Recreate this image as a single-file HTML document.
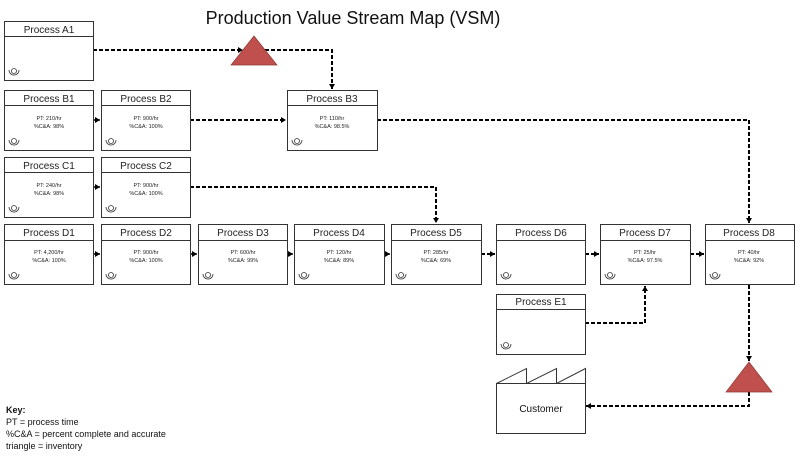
<!DOCTYPE html>
<html><head><meta charset="utf-8"><style>
html,body{margin:0;padding:0;background:#fff;}
svg{display:block;font-family:"Liberation Sans",Arial,sans-serif;}
.bx{fill:#fff;stroke:#333;stroke-width:1}
.hd{font-size:10px;fill:#222;text-anchor:middle}
.sm{font-size:5.5px;fill:#222;text-anchor:middle}
.dl{fill:none;stroke:#000;stroke-width:2;stroke-dasharray:4,2}
.sl{fill:none;stroke:#000;stroke-width:1.5}
.ic{fill:none;stroke:#333;stroke-width:0.8}
</style></head><body>
<svg width="800" height="460" viewBox="0 0 800 460">
<defs>
<marker id="ar" markerWidth="5" markerHeight="6" refX="5" refY="3" orient="auto" markerUnits="userSpaceOnUse"><path d="M0,0 L5,3 L0,6 z" fill="#000"/></marker>
<g id="op"><circle class="ic" cx="0" cy="-3" r="2.5"/><path class="ic" d="M-5,-4 A5,5 0 0 0 5,-4"/></g>
</defs>
<text x="353" y="24" font-size="18" text-anchor="middle" fill="#111">Production Value Stream Map (VSM)</text>

<path class="dl" d="M93,50 H243" marker-end="url(#ar)"/>
<path class="dl" d="M265,50 H332 V89" marker-end="url(#ar)"/>
<path class="dl" d="M190,120 H286" marker-end="url(#ar)"/>
<path class="dl" d="M377,120 H749 V223" marker-end="url(#ar)"/>
<path class="dl" d="M190,187 H436 V223" marker-end="url(#ar)"/>
<path class="sl" d="M93,120 H100" marker-end="url(#ar)"/>
<path class="sl" d="M93,187 H100" marker-end="url(#ar)"/>
<path class="sl" d="M93,254 H100" marker-end="url(#ar)"/>
<path class="sl" d="M190,254 H197" marker-end="url(#ar)"/>
<path class="sl" d="M287,254 H293" marker-end="url(#ar)"/>
<path class="sl" d="M384,254 H390" marker-end="url(#ar)"/>
<path class="dl" d="M481,254 H495" marker-end="url(#ar)"/>
<path class="dl" d="M585,254 H599" marker-end="url(#ar)"/>
<path class="dl" d="M690,254 H704" marker-end="url(#ar)"/>
<path class="dl" d="M585,323 H645 V286" marker-end="url(#ar)"/>
<path class="dl" d="M749,285 V361" marker-end="url(#ar)"/>
<path class="dl" d="M749,392 V406 H586" marker-end="url(#ar)"/>

<polygon points="254,36 277,65 231,65" fill="#c0504d" stroke="#8c3836" stroke-width="0.7"/>
<polygon points="749,362 772,392 726,392" fill="#c0504d" stroke="#8c3836" stroke-width="0.7"/>

<g><rect class="bx" x="4.5" y="21.5" width="89" height="59"/><line class="bx" x1="4.5" y1="36.5" x2="93.5" y2="36.5"/><text class="hd" x="49" y="33">Process A1</text><use href="#op" x="14" y="74"/></g>

<g><rect class="bx" x="4.5" y="90.5" width="89" height="60"/><line class="bx" x1="4.5" y1="105.5" x2="93.5" y2="105.5"/><text class="hd" x="49" y="102">Process B1</text><text class="sm" x="49" y="120">PT: 210/hr</text><text class="sm" x="49" y="128">%C&amp;A: 98%</text><use href="#op" x="14" y="144"/></g>
<g><rect class="bx" x="101.5" y="90.5" width="89" height="60"/><line class="bx" x1="101.5" y1="105.5" x2="190.5" y2="105.5"/><text class="hd" x="146" y="102">Process B2</text><text class="sm" x="146" y="120">PT: 900/hr</text><text class="sm" x="146" y="128">%C&amp;A: 100%</text><use href="#op" x="111" y="144"/></g>
<g><rect class="bx" x="287.5" y="90.5" width="90" height="60"/><line class="bx" x1="287.5" y1="105.5" x2="377.5" y2="105.5"/><text class="hd" x="332" y="102">Process B3</text><text class="sm" x="332" y="120">PT: 110/hr</text><text class="sm" x="332" y="128">%C&amp;A: 98.5%</text><use href="#op" x="297" y="144"/></g>

<g><rect class="bx" x="4.5" y="157.5" width="89" height="60"/><line class="bx" x1="4.5" y1="172.5" x2="93.5" y2="172.5"/><text class="hd" x="49" y="169">Process C1</text><text class="sm" x="49" y="187">PT: 240/hr</text><text class="sm" x="49" y="195">%C&amp;A: 98%</text><use href="#op" x="14" y="211"/></g>
<g><rect class="bx" x="101.5" y="157.5" width="89" height="60"/><line class="bx" x1="101.5" y1="172.5" x2="190.5" y2="172.5"/><text class="hd" x="146" y="169">Process C2</text><text class="sm" x="146" y="187">PT: 900/hr</text><text class="sm" x="146" y="195">%C&amp;A: 100%</text><use href="#op" x="111" y="211"/></g>

<g><rect class="bx" x="4.5" y="224.5" width="89" height="60"/><line class="bx" x1="4.5" y1="240.5" x2="93.5" y2="240.5"/><text class="hd" x="49" y="236">Process D1</text><text class="sm" x="49" y="254">PT: 4,200/hr</text><text class="sm" x="49" y="262">%C&amp;A: 100%</text><use href="#op" x="14" y="278"/></g>
<g><rect class="bx" x="101.5" y="224.5" width="89" height="60"/><line class="bx" x1="101.5" y1="240.5" x2="190.5" y2="240.5"/><text class="hd" x="146" y="236">Process D2</text><text class="sm" x="146" y="254">PT: 900/hr</text><text class="sm" x="146" y="262">%C&amp;A: 100%</text><use href="#op" x="111" y="278"/></g>
<g><rect class="bx" x="198.5" y="224.5" width="89" height="60"/><line class="bx" x1="198.5" y1="240.5" x2="287.5" y2="240.5"/><text class="hd" x="243" y="236">Process D3</text><text class="sm" x="243" y="254">PT: 600/hr</text><text class="sm" x="243" y="262">%C&amp;A: 99%</text><use href="#op" x="208" y="278"/></g>
<g><rect class="bx" x="294.5" y="224.5" width="90" height="60"/><line class="bx" x1="294.5" y1="240.5" x2="384.5" y2="240.5"/><text class="hd" x="339" y="236">Process D4</text><text class="sm" x="339" y="254">PT: 120/hr</text><text class="sm" x="339" y="262">%C&amp;A: 89%</text><use href="#op" x="304" y="278"/></g>
<g><rect class="bx" x="391.5" y="224.5" width="90" height="60"/><line class="bx" x1="391.5" y1="240.5" x2="481.5" y2="240.5"/><text class="hd" x="436" y="236">Process D5</text><text class="sm" x="436" y="254">PT: 285/hr</text><text class="sm" x="436" y="262">%C&amp;A: 69%</text><use href="#op" x="401" y="278"/></g>
<g><rect class="bx" x="496.5" y="224.5" width="89" height="60"/><line class="bx" x1="496.5" y1="240.5" x2="585.5" y2="240.5"/><text class="hd" x="541" y="236">Process D6</text><use href="#op" x="506" y="278"/></g>
<g><rect class="bx" x="600.5" y="224.5" width="90" height="60"/><line class="bx" x1="600.5" y1="240.5" x2="690.5" y2="240.5"/><text class="hd" x="645" y="236">Process D7</text><text class="sm" x="645" y="254">PT: 25/hr</text><text class="sm" x="645" y="262">%C&amp;A: 97.5%</text><use href="#op" x="610" y="278"/></g>
<g><rect class="bx" x="705.5" y="224.5" width="89" height="60"/><line class="bx" x1="705.5" y1="240.5" x2="794.5" y2="240.5"/><text class="hd" x="749" y="236">Process D8</text><text class="sm" x="749" y="254">PT: 40/hr</text><text class="sm" x="749" y="262">%C&amp;A: 92%</text><use href="#op" x="715" y="278"/></g>

<g><rect class="bx" x="496.5" y="294.5" width="89" height="60"/><line class="bx" x1="496.5" y1="309.5" x2="585.5" y2="309.5"/><text class="hd" x="541" y="305">Process E1</text><use href="#op" x="506" y="348"/></g>

<g><rect class="bx" x="496.5" y="383.5" width="89" height="50"/>
<path fill="none" stroke="#333" stroke-width="1" d="M496.5,383.5 L526.5,368.5 V383.5 M526.5,383.5 L556.5,368.5 V383.5 M556.5,383.5 L585.5,368.5 V383.5"/>
<text x="541" y="412" font-size="10" text-anchor="middle" fill="#111">Customer</text></g>

<text x="6" y="413" font-size="9" font-weight="bold" fill="#111">Key:</text>
<text x="6" y="425" font-size="9" fill="#111">PT = process time</text>
<text x="6" y="437" font-size="9" fill="#111">%C&amp;A = percent complete and accurate</text>
<text x="6" y="449" font-size="9" fill="#111">triangle = inventory</text>
</svg>
</body></html>
